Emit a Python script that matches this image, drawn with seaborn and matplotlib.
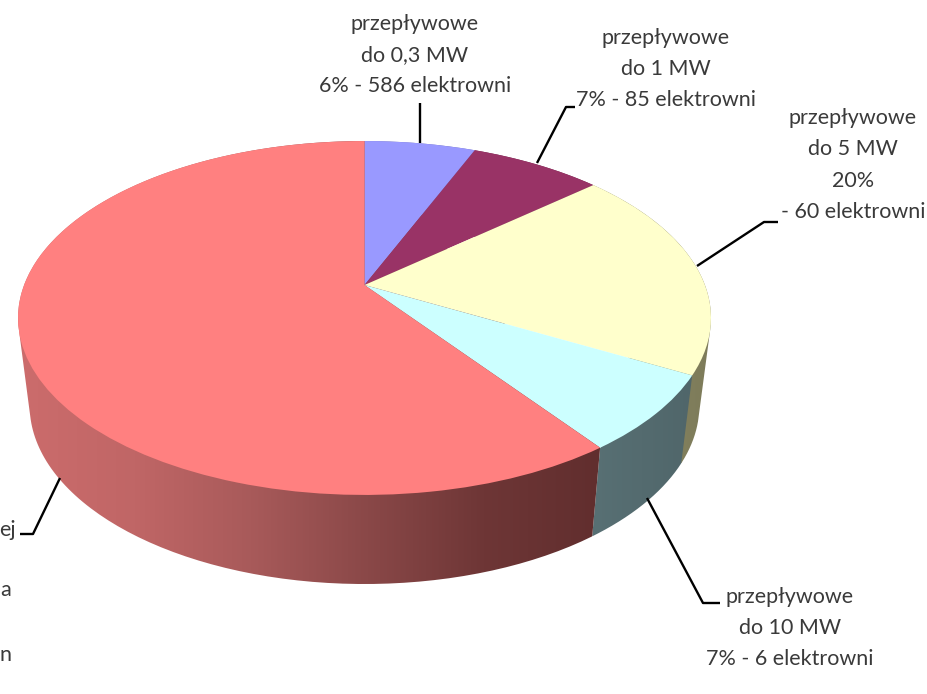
import matplotlib
matplotlib.use("Agg")
import matplotlib.pyplot as plt
import numpy as np
import seaborn as sns
from matplotlib.colors import LinearSegmentedColormap
from matplotlib.patches import PathPatch
from matplotlib.path import Path
from matplotlib.transforms import Transform

# Data
shares = [6.2, 7.4, 19.4, 7, 60]
slice_colors = ["#9999ff", "#993366", "#ffffcc", "#ccffff", "#ff8080"]
wall_colors = [
    ["#6f6fb8", "#6f6fb8"],
    ["#6e2549", "#6e2549"],
    ["#8c8a62", "#7d7b5a"],
    ["#587074", "#50666a"],
    ["#cc6c6c", "#c06666", "#a85a5a", "#8a4848", "#6e3636", "#612e2e"],
]
labels = [
    "przepływowe\ndo 0,3 MW\n6% - 586 elektrowni",
    "przepływowe\ndo 1 MW\n7% - 85 elektrowni",
    "przepływowe\ndo 5 MW\n20%\n- 60 elektrowni",
    "przepływowe\ndo 10 MW\n7% - 6 elektrowni",
]
cut_labels = ["ej", "a", "n"]


class Perspective(Transform):
    """Unit circle to a tilted disc, in pixel coordinates."""

    input_dims = 2
    output_dims = 2
    is_affine = False
    has_inverse = False

    def __init__(self, cx, cy, rx, ry, tilt):
        super().__init__()
        self.cx, self.cy, self.rx, self.ry, self.tilt = cx, cy, rx, ry, tilt

    def transform_non_affine(self, values):
        values = np.asarray(values, dtype=float)
        w = 1 + self.tilt * values[:, 1]
        return np.column_stack(
            [
                self.cx + self.rx * values[:, 0] / w,
                self.cy - self.ry * values[:, 1] / w,
            ]
        )


def convex_hull(points):
    """Monotone chain hull, closes the wall between the two discs."""
    pts = sorted(map(tuple, points))
    chain = []
    for seq in (pts, pts[::-1]):
        part = []
        for p in seq:
            while len(part) > 1:
                a, b = part[-2], part[-1]
                if (b[0] - a[0]) * (p[1] - a[1]) - (b[1] - a[1]) * (p[0] - a[0]) > 0:
                    break
                part.pop()
            part.append(p)
        chain += part[:-1]
    return np.array(chain + chain[:1])


sns.set_theme(style="white")
plt.rcParams["font.family"] = ["Lato", "DejaVu Sans"]

fig = plt.figure(figsize=(9.28, 6.94), dpi=100)
ax = fig.add_axes([0, 0, 1, 1])

wedges, _ = ax.pie(
    shares,
    colors=sns.color_palette(slice_colors),
    startangle=90,
    counterclock=False,
    wedgeprops={"linewidth": 0, "zorder": 3},
)
ax.set_aspect("auto")
ax.axis("off")

top_disc = Perspective(364.5, 285, 340.4, 170.8, 0.1864)
bottom_disc = Perspective(364.5, 372, 329, 172.5, 0.1864)

# Side wall of each slice, shaded left to right and clipped to the slice outline
for wedge, colors in zip(wedges, wall_colors):
    theta = np.radians(np.linspace(wedge.theta1, wedge.theta2, 200))
    circle = np.column_stack([np.cos(theta), np.sin(theta)])
    outline = convex_hull(
        np.vstack([top_disc.transform(circle), bottom_disc.transform(circle)])
    )
    xmin, xmax = outline[:, 0].min(), outline[:, 0].max()
    ymin, ymax = outline[:, 1].min(), outline[:, 1].max()
    cmap = LinearSegmentedColormap.from_list("wall", colors)
    im = ax.imshow(
        np.linspace(0, 1, 256)[None, :],
        cmap=cmap,
        extent=(xmin, xmax, ymax, ymin),
        aspect="auto",
        zorder=2,
    )
    im.set_clip_path(PathPatch(Path(outline), transform=ax.transData))
ax.set_xlim(0, 928)
ax.set_ylim(694, 0)

for wedge in wedges:
    wedge.set_transform(top_disc + ax.transData)

# Leader lines
leaders = [
    ([420, 420], [103, 143]),
    ([575, 566, 537], [107, 107, 163]),
    ([778, 764, 697], [222, 222, 266]),
    ([647, 703, 720], [498, 603, 603]),
    ([60, 33, 20], [478, 534, 534]),
]
for xs, ys in leaders:
    ax.plot(xs, ys, color="black", lw=1.7, solid_capstyle="butt", zorder=4)

text_style = {"fontsize": 15.5, "color": "#3a3a3a", "linespacing": 1.7, "zorder": 5}
ax.text(415, 55, labels[0], ha="center", va="center", **text_style)
ax.text(666, 69, labels[1], ha="center", va="center", **text_style)
ax.text(853, 165, labels[2], ha="center", va="center", **text_style)
ax.text(790, 628, labels[3], ha="center", va="center", **text_style)
for txt, x, y in zip(cut_labels, [16, 11, 12], [530, 590, 655]):
    ax.text(x, y, txt, ha="right", va="center", **text_style)

fig.savefig("out.png", dpi=100)
